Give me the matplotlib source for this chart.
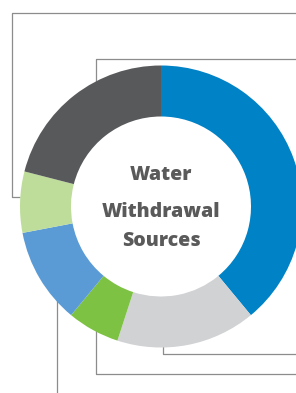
import matplotlib
matplotlib.use("Agg")
import matplotlib.pyplot as plt

# segment shares (clockwise from 12 o'clock)
shares = [39, 16, 6, 11, 7, 21]
colors = ['#0082c6', '#d1d2d4', '#7dc242', '#5b9bd5', '#bedd9a', '#58595b']
title_lines = ['Water', 'Withdrawal', 'Sources']

W, H = 296, 393
fig = plt.figure(figsize=(W / 100, H / 100), dpi=100)
ax = fig.add_axes([0, 0, 1, 1])

cx, cy = 161, H - 206.5
r_out, r_in = 141, 90

ax.pie(shares, colors=colors, startangle=90, counterclock=False,
       radius=r_out, center=(cx, cy),
       wedgeprops=dict(width=r_out - r_in, linewidth=0))

# connector lines (image coords, flipped)
lc = '#8c8c8c'
lines = [
    [(20, 197), (12, 197), (12, 13), (296, 13)],
    [(96, 90), (96, 59), (296, 59)],
    [(162.5, 340), (162.5, 354), (296, 354)],
    [(95.5, 330), (95.5, 374), (296, 374)],
    [(57, 300), (57, 393)],
]
for pts in lines:
    xs = [p[0] for p in pts]
    ys = [H - p[1] for p in pts]
    ax.plot(xs, ys, color=lc, lw=0.9, zorder=0, solid_capstyle='butt')

for p in ax.patches:
    p.set_zorder(2)

for txt, yy in zip(title_lines, [175.5, 212, 241.5]):
    ax.text(cx, H - yy, txt, ha='center', va='center', fontsize=14,
            fontweight=800, color='#5a5a5a', family='Open Sans', zorder=3)

ax.set_xlim(0, W)
ax.set_ylim(0, H)
ax.set_aspect('auto')
ax.axis('off')

fig.savefig('out.png', dpi=100)
